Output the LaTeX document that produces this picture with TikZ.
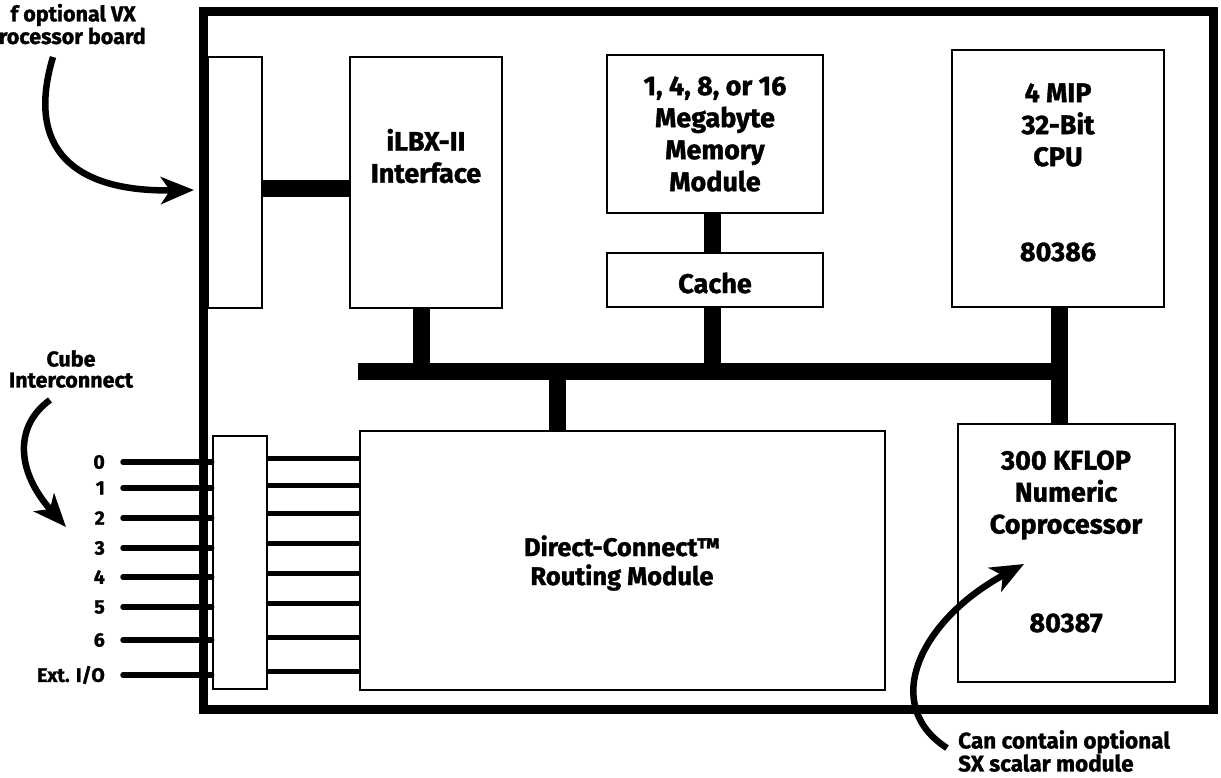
\documentclass[tikz,border=0pt]{standalone}
\usepackage{fontspec}
\setmainfont{Fira Sans}[BoldFeatures={FakeBold=1.3}]
\usetikzlibrary{arrows.meta}
\begin{document}
\begin{tikzpicture}[x=1pt,y=-1pt,
  box/.style={draw, line width=2.6pt, fill=white, inner sep=0pt},
  txt/.style={font=\bfseries\fontsize{27}{32}\selectfont, align=center, inner sep=0pt},
  small/.style={font=\bfseries\fontsize{21.5}{21}\selectfont, align=center, inner sep=0pt},
  numlab/.style={font=\bfseries\fontsize{19.5}{20}\selectfont, inner sep=0pt, anchor=east},
  bus/.style={line width=17pt},
  pinL/.style={line width=5.5pt, line cap=round},
  pinR/.style={line width=5pt},
  callout/.style={line width=6.5pt, -{Stealth[length=33pt,width=27pt,inset=9pt]}}
]
\useasboundingbox (0,0) rectangle (1221,777);
\fill[white] (0,0) rectangle (1221,777);

% board outline
\node[draw, line width=9pt, minimum width=1010pt, minimum height=698pt, inner sep=0pt] (board) at (708,360) {};

% boxes
\node[box, minimum width=54pt, minimum height=251pt] (conA) at (235,182.5) {};
\node[box, minimum width=152pt, minimum height=251pt] (ilbx) at (426,182.5) {};
\node[box, minimum width=216pt, minimum height=158pt] (mem) at (715,134) {};
\node[box, minimum width=216pt, minimum height=54pt] (cache) at (715,280) {};
\node[box, minimum width=212pt, minimum height=257pt] (cpu) at (1058,178.5) {};
\node[box, minimum width=217pt, minimum height=258pt] (copro) at (1066.5,553) {};
\node[box, minimum width=525pt, minimum height=259pt] (dc) at (622.5,560.5) {};
\node[box, minimum width=54pt, minimum height=253pt] (conB) at (240,562.5) {};

% texts
\node[txt] (ilbxT) at (426,156) {iLBX-II\\Interface};
\node[txt] (memT) at (715,134) {1, 4, 8, or 16\\Megabyte\\Memory\\Module};
\node[txt] (cacheT) at (715,283) {Cache};
\node[txt] (cpuT) at (1058,125) {4 MIP\\32-Bit\\CPU};
\node[txt] (cpuN) at (1058,252) {80386};
\node[txt] (coproT) at (1066,495) {300 KFLOP\\Numeric\\Coprocessor};
\node[txt] (coproN) at (1066,623) {80387};
\node[txt, font=\bfseries\fontsize{25.5}{29}\selectfont] (dcT) at (622,563) {Direct-Connect™\\Routing Module};

% bus
\coordinate (busL) at (358,371);
\coordinate (busR) at (1067.5,371);
\draw[bus] (busL) -- (busR);
\coordinate (jI) at (421,371);
\coordinate (jM) at (712,371);
\coordinate (jC) at (1059,371);
\coordinate (jD) at (557,371);
\coordinate (jA) at (0,188);
\draw[bus] (jI |- ilbx.south) -- (jI);
\draw[bus] (jM |- mem.south) -- (jM |- cache.north);
\draw[bus] (jM |- cache.south) -- (jM);
\draw[bus] (jC |- cpu.south) -- (jC |- copro.north);
\draw[bus] (jD) -- (jD |- dc.north);
\draw[bus] (conA.east |- jA) -- (ilbx.west |- jA);

% cube interconnect lines
\foreach \lab/\yl/\yr [count=\i] in {0/462/458, 1/488/485, 2/518/513, 3/548/543, 4/577/573, 5/607/603, 6/640/637, {Ext. I/O}/675/671} {
  \node[numlab] (n\i) at (105,\yl) {\lab};
  \coordinate (pl\i) at (123,\yl);
  \coordinate (pr\i) at (0,\yr);
  \draw[pinL] (pl\i) -- (conB.west |- pl\i);
  \draw[pinR] (conB.east |- pr\i) -- (dc.west |- pr\i);
}

% callouts
\node[small, anchor=east] (vxA) at (136,15) {f optional VX};
\node[small, anchor=east] (vxB) at (146,36) {rocessor board};
\coordinate (vxS) at (53,57);
\coordinate (vxE) at (194,190);
\draw[callout] (vxS) .. controls (25,150) and (75,192) .. (vxE);

\node[small] (cube) at (71,369) {Cube\\Interconnect};
\coordinate (cubeS) at (50,400);
\coordinate (cubeE) at (66,527);
\draw[callout] (cubeS) .. controls (15,425) and (15,470) .. (cubeE);

\node[small, font=\bfseries\fontsize{22.5}{23}\selectfont, align=left, anchor=west] (sx) at (958,751) {Can contain optional\\SX scalar module};
\coordinate (sxS) at (947,748);
\coordinate (sxE) at (1024,564);
\draw[callout] (sxS) .. controls (880,705) and (920,620) .. (sxE);
\end{tikzpicture}
\end{document}
